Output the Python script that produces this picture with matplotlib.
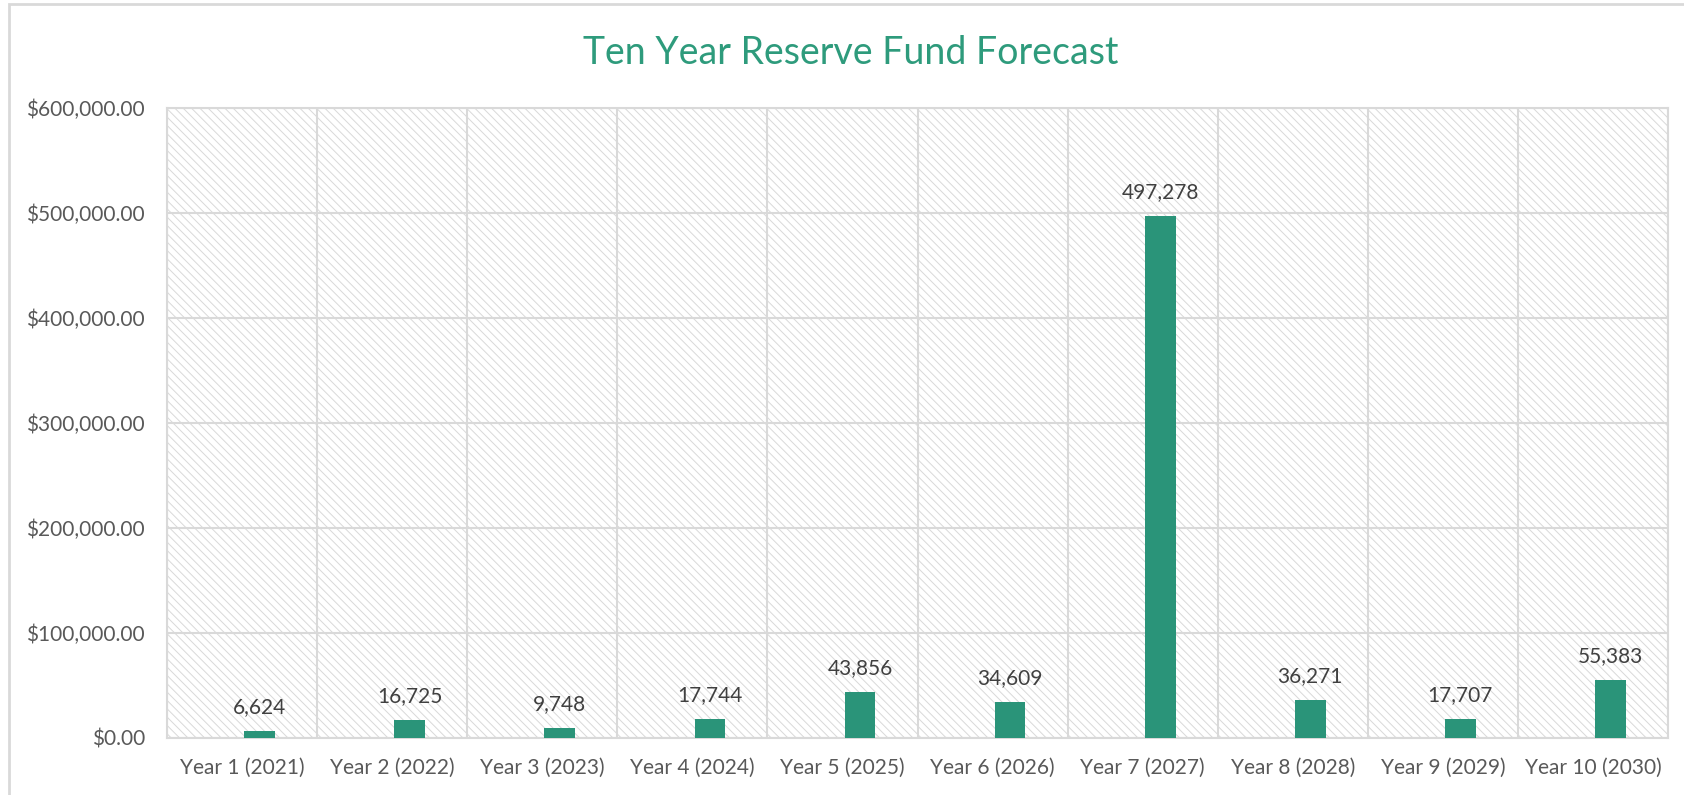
import matplotlib.pyplot as plt
from matplotlib.patches import Rectangle

plt.rcParams['font.family'] = ['Lato', 'DejaVu Sans']
plt.rcParams['hatch.color'] = '#d4d4d4'
plt.rcParams['hatch.linewidth'] = 0.7

years = ['Year 1 (2021)', 'Year 2 (2022)', 'Year 3 (2023)', 'Year 4 (2024)', 'Year 5 (2025)',
         'Year 6 (2026)', 'Year 7 (2027)', 'Year 8 (2028)', 'Year 9 (2029)', 'Year 10 (2030)']
reserve = [6624, 16725, 9748, 17744, 43856, 34609, 497278, 36271, 17707, 55383]
yticks = [0, 100000, 200000, 300000, 400000, 500000, 600000]

grid_col = '#d9d9d9'
bar_col = '#2a9479'

fig = plt.figure(figsize=(16.84, 7.95), dpi=100)
# outer chart border
fig.patches.append(Rectangle((9 / 1684, -0.05), 1.1, 1 - 4 / 795 + 0.05, transform=fig.transFigure,
                             facecolor='none', edgecolor=grid_col, linewidth=2))
ax = fig.add_axes([167 / 1684, 1 - 738 / 795, (1668 - 167) / 1684, (738 - 108) / 795])

# hatched plot area
ax.add_patch(Rectangle((0, 0), 1, 1, transform=ax.transAxes, facecolor='white',
                       edgecolor=grid_col, hatch='\\\\\\\\', linewidth=0, zorder=0))

x = list(range(len(years)))
# bars sit right of centre, like the first slot of a two-series cluster
bx = [xi + 0.117 for xi in x]
ax.bar(bx, reserve, width=0.205, color=bar_col, zorder=3)
for xi, v in zip(bx, reserve):
    ax.annotate(f'{v:,}', (xi, v), xytext=(0, 10), textcoords='offset points',
                ha='center', va='bottom', fontsize=15, color='#404040', zorder=4)

ax.set_xlim(-0.5, len(years) - 0.5)
ax.set_ylim(0, 600000)
ax.set_xticks(x)
ax.set_xticklabels(years)
ax.set_xticks([i - 0.5 for i in range(len(years) + 1)], minor=True)
ax.set_yticks(yticks)
ax.set_yticklabels([f'${t:,.2f}' for t in yticks])
ax.tick_params(axis='both', which='both', length=0, labelsize=15, labelcolor='#595959')
ax.tick_params(axis='x', pad=14)
ax.tick_params(axis='y', pad=16)
ax.grid(axis='y', which='major', color=grid_col, linewidth=1.5, zorder=1)
ax.grid(axis='x', which='minor', color=grid_col, linewidth=1.5, zorder=1)
ax.grid(axis='x', which='major', visible=False)
for s in ax.spines.values():
    s.set_color(grid_col)
    s.set_linewidth(1.5)

fig.text(0.505, 1 - 53 / 795, 'Ten Year Reserve Fund Forecast', ha='center', va='center',
         fontsize=27, color='#2e9b7c')

fig.savefig('out.png', dpi=100)
